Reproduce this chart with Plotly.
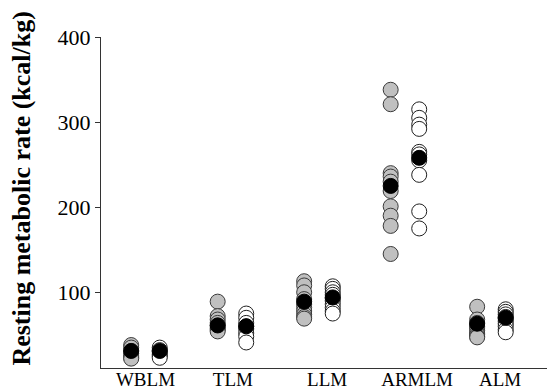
import plotly.graph_objects as go

categories = ["WBLM", "TLM", "LLM", "ARMLM", "ALM"]

gray_values = [
    [38, 35, 31, 28, 25, 23, 22],
    [89, 72, 68, 64, 61, 58, 56, 54],
    [113, 108, 100, 92, 86, 82, 78, 74, 71, 69],
    [338, 321, 240, 236, 230, 219, 201, 190, 178, 145],
    [83, 68, 64, 60, 58, 55, 52, 50, 48, 47],
]
white_values = [
    [35, 32, 30, 27, 25, 23],
    [75, 70, 64, 60, 57, 52, 48, 41],
    [107, 104, 100, 97, 93, 90, 86, 82, 78, 75],
    [315, 305, 297, 292, 265, 262, 255, 238, 195, 175],
    [80, 77, 74, 71, 69, 66, 63, 60, 56, 53],
]
gray_means = [31, 61, 89, 225, 63]
white_means = [31, 60, 94, 258, 70]

y_ticks = [100, 200, 300, 400]
label_positions = [1.0, 2.01, 3.1, 4.14, 5.1]

offset = 0.165
fig = go.Figure()

gx, gy, wx, wy = [], [], [], []
for i, vals in enumerate(gray_values):
    gx += [i + 1 - offset] * len(vals)
    gy += vals
for i, vals in enumerate(white_values):
    wx += [i + 1 + offset] * len(vals)
    wy += vals

msize = 15
fig.add_trace(go.Scatter(x=gx, y=gy, mode="markers",
                         marker=dict(size=msize, color="#c0c0c0",
                                     line=dict(color="#3a3a3a", width=1))))
fig.add_trace(go.Scatter(x=wx, y=wy, mode="markers",
                         marker=dict(size=msize, color="white",
                                     line=dict(color="#202020", width=1))))
fig.add_trace(go.Scatter(x=[i + 1 - offset for i in range(len(categories))], y=gray_means,
                         mode="markers",
                         marker=dict(size=msize, color="black",
                                     line=dict(color="black", width=1))))
fig.add_trace(go.Scatter(x=[i + 1 + offset for i in range(len(categories))], y=white_means,
                         mode="markers",
                         marker=dict(size=msize, color="black",
                                     line=dict(color="black", width=1))))

serif = '"Liberation Serif", "Times New Roman", serif'
fig.update_layout(
    width=547, height=383,
    margin=dict(l=93, r=7, t=29, b=23),
    paper_bgcolor="white", plot_bgcolor="white",
    showlegend=False,
    font=dict(family=serif, color="black"),
    xaxis=dict(range=[0.486, 5.654], tickvals=label_positions, ticktext=categories,
               showgrid=False, zeroline=False, showline=True, linecolor="#333",
               linewidth=1, ticks="", tickfont=dict(size=19, family=serif),
               ticklabelstandoff=-6, automargin=False),
    yaxis=dict(range=[11, 400], tickvals=y_ticks, showgrid=False, zeroline=False,
               showline=True, linecolor="#333", linewidth=1, ticks="outside",
               ticklen=5, tickcolor="#333", tickfont=dict(size=22, family=serif), automargin=False),
    annotations=[dict(text="<b>Resting metabolic rate (kcal/kg)</b>",
                      textangle=-90, xref="paper", yref="paper",
                      x=-0.1767, y=0.542, xanchor="center", yanchor="middle",
                      showarrow=False, font=dict(size=26, family=serif))],
)

fig.write_html("out.html")
